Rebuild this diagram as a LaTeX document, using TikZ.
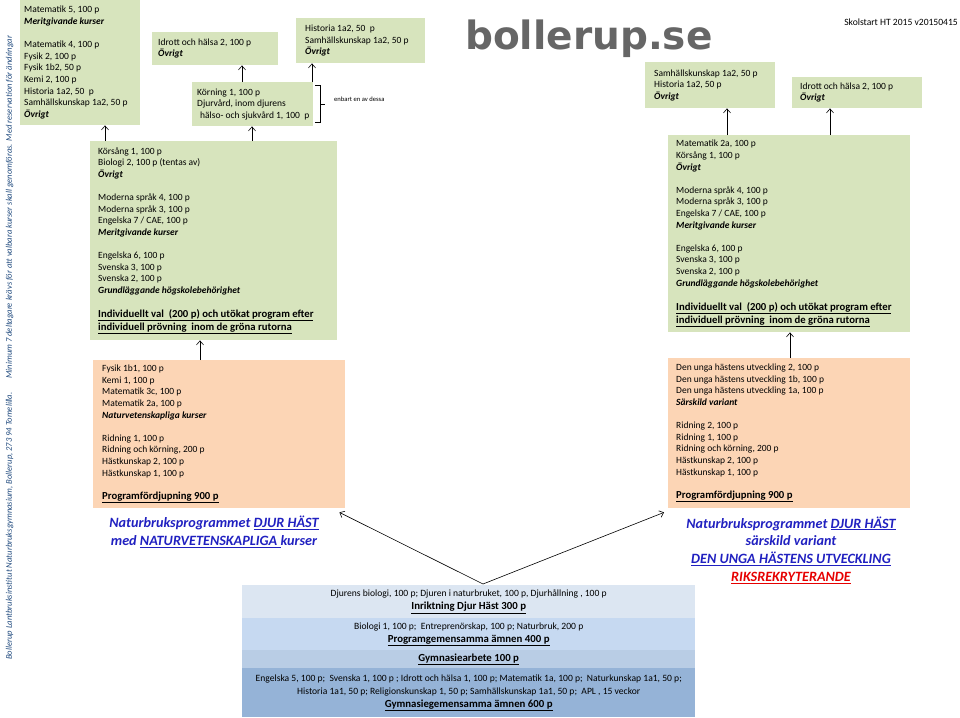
\documentclass[tikz,border=0pt]{standalone}
\usepackage{fontspec}
\setmainfont{Carlito}
\newfontfamily\logofont{DejaVu Sans}
\usetikzlibrary{arrows.meta,calc}
\definecolor{boxgreen}{RGB}{215,228,189}
\definecolor{boxpeach}{RGB}{252,213,181}
\definecolor{rowa}{RGB}{220,230,242}
\definecolor{rowb}{RGB}{198,217,241}
\definecolor{rowc}{RGB}{185,205,229}
\definecolor{rowd}{RGB}{149,179,215}
\definecolor{titleblue}{RGB}{32,32,192}
\definecolor{titlered}{RGB}{230,0,0}
\definecolor{sidetext}{RGB}{31,73,125}
\definecolor{logogrey}{RGB}{102,102,102}
\newcommand\bi[1]{\textbf{\textit{#1}}}
\newcommand\bu[1]{\underline{\textbf{#1}}}
\newcommand\bodyfont{\fontsize{9.5}{11.6}\selectfont}
\newcommand\bigline{\fontsize{10.7}{11.6}\selectfont}
\newcommand\stackfont{\fontsize{9.6}{13}\selectfont}
\newcommand\stackbold{\fontsize{10.8}{13}\selectfont}
\begin{document}
\begin{tikzpicture}[x=1pt,y=-1pt,
  gbox/.style={fill=boxgreen, anchor=north west, inner sep=0pt},
  pbox/.style={fill=boxpeach, anchor=north west, inner sep=0pt},
  rowbox/.style={anchor=north west, inner sep=0pt, minimum width=453pt},
  txt/.style={anchor=west, inner sep=0pt, align=left, font=\bodyfont},
  stxt/.style={inner sep=0pt, align=center, font=\stackfont},
  ttl/.style={inner sep=0pt, align=center, font=\fontsize{14.2}{17.7}\selectfont\bfseries\itshape, text=titleblue},
  arr/.style={-{Straight Barb[length=4pt,width=7pt]}, line width=0.6pt}]
\useasboundingbox (0,0) rectangle (960,717);

% side text
\node[rotate=90, anchor=base west, inner sep=0pt, text=sidetext,
  font=\fontsize{8.6}{10}\selectfont\itshape] (side) at (12,660)
  {Bollerup Lantbruksinstitut Naturbruksgymnasium, Bollerup, 273 94 Tomelilla.\hspace{14pt}Minimum 7 deltagare krävs för att valbara kurser skall genomföras. Med reservation för ändringar};

% logo and date
\node[anchor=base west, inner sep=0pt, text=logogrey, font=\logofont\bfseries\fontsize{39}{39}\selectfont] (logo) at (465,50) {bollerup.se};
\node[anchor=base east, inner sep=0pt, font=\fontsize{9.6}{11}\selectfont] (date) at (958,26) {Skolstart HT 2015 v20150415};

% top left
\node[gbox, minimum width=120pt, minimum height=125pt] (tl) at (20,0) {};
\node[txt] (tlt) at ($(tl.west)+(4,0)$) {Matematik 5, 100 p\\ \bi{Meritgivande kurser}\\[11.6pt]
Matematik 4, 100 p\\ Fysik 2, 100 p\\ Fysik 1b2, 50 p\\ Kemi 2, 100 p\\ Historia 1a2, 50~ p\\ Samhällskunskap 1a2, 50 p\\ \bi{Övrigt}};

% top middle
\node[gbox, minimum width=126pt, minimum height=33pt] (idr) at (152,32) {};
\node[txt] (idrt) at ($(idr.west)+(6,0)$) {Idrott och hälsa 2, 100 p\\ \bi{Övrigt}};
\node[gbox, minimum width=129pt, minimum height=45pt] (hist) at (296,18) {};
\node[txt] (histt) at ($(hist.west)+(9,0)$) {Historia 1a2, 50~ p\\ Samhällskunskap 1a2, 50 p\\ \bi{Övrigt}};
\node[gbox, minimum width=121pt, minimum height=44pt] (korn) at (192,82) {};
\node[txt] (kornt) at ($(korn.west)+(5,0)$) {Körning 1, 100 p\\ Djurvård, inom djurens\\ \hspace{3pt}hälso- och sjukvård 1, 100~ p};
\draw[line width=0.6pt] (315,85) -| (320,122) -- (315,122);
\draw[line width=0.6pt] (320,104) -- (325,104);
\node[anchor=west, inner sep=0pt, font=\fontsize{6.6}{8}\selectfont] (enb) at (334,99) {enbart en av dessa};

% top right
\node[gbox, minimum width=130pt, minimum height=46pt] (rsam) at (645,62) {};
\node[txt] (rsamt) at ($(rsam.west)+(9,0)$) {Samhällskunskap 1a2, 50 p\\ Historia 1a2, 50 p\\ \bi{Övrigt}};
\node[gbox, minimum width=130pt, minimum height=31pt] (ridr) at (792,77) {};
\node[txt] (ridrt) at ($(ridr.west)+(8,0)$) {Idrott och hälsa 2, 100 p\\ \bi{Övrigt}};

% left green
\node[gbox, minimum width=247pt, minimum height=199pt] (lg) at (90,141) {};
\node[txt] (lgt) at ($(lg.west)+(8,0)$) {Körsång 1, 100 p\\ Biologi 2, 100 p (tentas av)\\ \bi{Övrigt}\\[11.6pt]
Moderna språk 4, 100 p\\ Moderna språk 3, 100 p\\ Engelska 7 / CAE, 100 p\\ \bi{Meritgivande kurser}\\[11.6pt]
Engelska 6, 100 p\\ Svenska 3, 100 p\\ Svenska 2, 100 p\\ \bi{Grundläggande högskolebehörighet}\\[12.4pt]
{\bigline\bu{Individuellt val~ (200 p) och utökat program efter}}\\[1.4pt]
{\bigline\bu{individuell prövning~ inom de gröna rutorna}}};

% right green
\node[gbox, minimum width=242pt, minimum height=197pt] (rg) at (668,135) {};
\node[txt] (rgt) at ($(rg.west)+(8,0)$) {Matematik 2a, 100 p\\ Körsång 1, 100 p\\ \bi{Övrigt}\\[11.6pt]
Moderna språk 4, 100 p\\ Moderna språk 3, 100 p\\ Engelska 7 / CAE, 100 p\\ \bi{Meritgivande kurser}\\[11.6pt]
Engelska 6, 100 p\\ Svenska 3, 100 p\\ Svenska 2, 100 p\\ \bi{Grundläggande högskolebehörighet}\\[12.4pt]
{\bigline\bu{Individuellt val~ (200 p) och utökat program efter}}\\[1.4pt]
{\bigline\bu{individuell prövning~ inom de gröna rutorna}}};

% left orange
\node[pbox, minimum width=252pt, minimum height=148pt] (lo) at (93,360) {};
\node[txt] (lot) at ($(lo.west)+(9,0)$) {Fysik 1b1, 100 p\\ Kemi 1, 100 p\\ Matematik 3c, 100 p\\ Matematik 2a, 100 p\\ \bi{Naturvetenskapliga kurser}\\[11.6pt]
Ridning 1, 100 p\\ Ridning och körning, 200 p\\ Hästkunskap 2, 100 p\\ Hästkunskap 1, 100 p\\[11.6pt]
{\bigline\bu{Programfördjupning 900 p}}};

% right orange
\node[pbox, minimum width=242pt, minimum height=150pt] (ro) at (668,358) {};
\node[txt] (rot) at ($(ro.west)+(8,0)$) {Den unga hästens utveckling 2, 100 p\\ Den unga hästens utveckling 1b, 100 p\\ Den unga hästens utveckling 1a, 100 p\\ \bi{Särskild variant}\\[11.6pt]
Ridning 2, 100 p\\ Ridning 1, 100 p\\ Ridning och körning, 200 p\\ Hästkunskap 2, 100 p\\ Hästkunskap 1, 100 p\\[11.6pt]
{\bigline\bu{Programfördjupning 900 p}}};

% titles
\node[ttl] (ltitle) at (214,532) {Naturbruksprogrammet \underline{DJUR HÄST}\\ med \underline{NATURVETENSKAPLIGA }kurser};
\node[ttl] (rtitle) at (791,550) {Naturbruksprogrammet \underline{DJUR HÄST}\\ särskild variant\\ \underline{DEN UNGA HÄSTENS UTVECKLING}\\ \textcolor{titlered}{\underline{RIKSREKRYTERANDE}}};

% bottom stack
\node[rowbox, fill=rowa, minimum height=33pt] (r1) at (242,585) {};
\node[rowbox, fill=rowb, minimum height=32pt] (r2) at (242,618) {};
\node[rowbox, fill=rowc, minimum height=18pt] (r3) at (242,650) {};
\node[rowbox, fill=rowd, minimum height=49pt] (r4) at (242,668) {};
\node[stxt] (r1t) at (r1.center) {Djurens biologi, 100 p; Djuren i naturbruket, 100 p, Djurhållning , 100 p\\ {\stackbold\bu{Inriktning Djur Häst 300 p}}};
\node[stxt] (r2t) at (r2.center) {Biologi 1, 100 p;~ Entreprenörskap, 100 p; Naturbruk, 200 p\\ {\stackbold\bu{Programgemensamma ämnen 400 p}}};
\node[stxt] (r3t) at (r3.center) {{\stackbold\bu{Gymnasiearbete 100 p}}};
\node[stxt] (r4t) at (r4.center) {Engelska 5, 100 p;~ Svenska 1, 100 p ; Idrott och hälsa 1, 100 p; Matematik 1a, 100 p;~ Naturkunskap 1a1, 50 p;\\ Historia 1a1, 50 p; Religionskunskap 1, 50 p; Samhällskunskap 1a1, 50 p;~ APL , 15 veckor\\ {\stackbold\bu{Gymnasiegemensamma ämnen 600 p}}};

% arrows
\draw[arr] (lg.north -| 105,0) -- (tl.south -| 105,0);
\draw[arr] (lg.north -| 252,0) -- (korn.south -| 252,0);
\draw[arr] (korn.north -| 242,0) -- (idr.south -| 242,0);
\draw[arr] (korn.north -| 312,0) -- (hist.south -| 312,0);
\draw[arr] (rg.north -| 727,0) -- (rsam.south -| 727,0);
\draw[arr] (rg.north -| 830,0) -- (ridr.south -| 830,0);
\draw[arr] (lo.north -| 200,0) -- (lg.south -| 200,0);
\draw[arr] (ro.north -| 790,0) -- (rg.south -| 790,0);
\coordinate (apex) at (483,584);
\draw[arr] (apex) -- ($(lo.south east)+(-6,4)$);
\draw[arr] (apex) -- ($(ro.south west)+(-4,4)$);
\end{tikzpicture}
\end{document}
